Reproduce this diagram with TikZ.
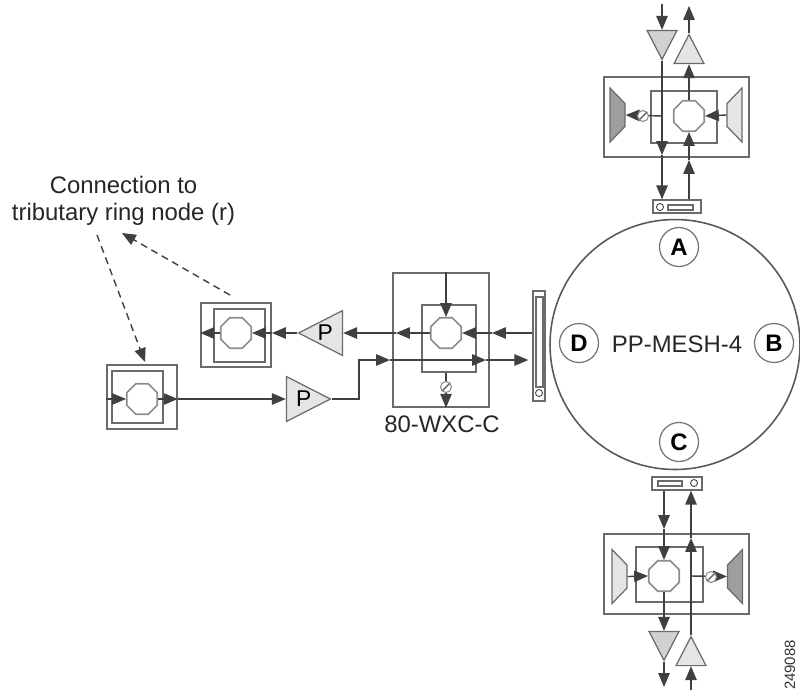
\documentclass[tikz,border=0pt]{standalone}
\usepackage{fontspec}
\setmainfont{Liberation Sans}
\usepackage{tikz}
\usetikzlibrary{arrows,shapes,positioning}
\definecolor{linegray}{gray}{.25}
\definecolor{boxgray}{gray}{.42}
\definecolor{ampdark}{gray}{.82}
\definecolor{amplight}{gray}{.9}
\definecolor{trapdark}{gray}{.62}
\tikzset{
  flow/.style={draw=linegray,line width=.8pt,-triangle 45},
  box/.style={draw=boxgray,rectangle,line width=.8pt,inner sep=0pt},
  oct/.style={draw=black!45,regular polygon,regular polygon sides=8,minimum size=.66cm,inner sep=0pt,line width=.9pt},
  amp/.style={draw=boxgray,isosceles triangle,isosceles triangle stretches,minimum width=.6cm,minimum height=.58cm,inner sep=0pt,line width=.7pt},
  pamp/.style={amp,fill=amplight,minimum width=.9cm,minimum height=.88cm,font=\fontsize{13}{14}\selectfont},
  trap/.style={draw=boxgray,trapezium,trapezium stretches=true,trapezium left angle=56,trapezium right angle=56,minimum width=1.08cm,minimum height=.3cm,inner sep=1pt,line width=.7pt},
  att/.style={draw=black!45,fill=white,circle,minimum size=.22cm,inner sep=0pt,line width=.6pt,
    path picture={\draw[black!60,line width=.8pt] (path picture bounding box.south west) -- (path picture bounding box.north east);}},
  port/.style={draw=linegray,circle,minimum size=.14cm,inner sep=0pt,line width=.5pt},
  letter/.style={draw=black!55,circle,minimum size=.78cm,inner sep=0pt,line width=.7pt,font=\fontsize{13.6}{14}\selectfont\bfseries},
  lab/.style={text=black!85,font=\fontsize{13.6}{15.4}\selectfont},
  hint/.style={flow,line width=.8pt,dash pattern=on 4pt off 2.8pt}
}
\begin{document}
\begin{tikzpicture}[x=.02cm,y=-.02cm]
  \useasboundingbox (0,0) rectangle (800,694);
 %the mesh ring
    \node[draw=black!65,circle,minimum size=5cm,inner sep=0pt,line width=.9pt] (ring) at (675,344.5) {};
    \node[letter] (A) at (679,247) {A};
    \node[letter] (B) at (774,343) {B};
    \node[letter] (C) at (679,442) {C};
    \node[letter] (D) at (579,343) {D};
    \node[lab] (mesh) at (677,344) {PP-MESH-4};
 %upper unit
    \node[box,minimum width=2.9cm,minimum height=1.6cm] (touter) at (676.5,117) {};
    \node[box,minimum width=1.32cm,minimum height=1.04cm] (tinner) at (684,117) {};
    \node[oct] (toct) at (689,116) {};
    \node[amp,fill=ampdark,shape border rotate=270,anchor=apex] (tdn) at (662,61) {};
    \node[amp,fill=amplight,shape border rotate=90,anchor=apex] (tup) at (689,33) {};
    \node[trap,fill=trapdark,rotate=-90] (tdk) at (617.5,115) {};
    \node[trap,fill=amplight,rotate=90] (tlt) at (734.5,115) {};
    \node[box,minimum width=.96cm,minimum height=.26cm] (tdev) at (677,206.5) {};
    \node[port] (tport) at (660,207) {};
    \node[box,minimum width=.5cm,minimum height=.1cm] (tslot) at (680.5,207.5) {};
    \coordinate (tin) at (662,4);
    \coordinate (tout) at (689,6);
    \coordinate (ta) at (662,155);
    \coordinate (tb) at (689,160);
  %draw arrows
    \draw[flow] (tin) -- (tdn.lower side);
    \draw[flow] (tdn.apex) -- (ta);
    \draw[flow] (ta) -- (tdev.north -| ta);
    \draw[flow] (tdev.north -| tb) -- (tb);
    \draw[flow] (tb) -- (toct.south);
    \draw[flow] (toct.north) -- (tup.lower side);
    \draw[flow] (tup.apex) -- (tout);
    \draw[flow] (tlt.top side) -- (toct.east);
    \draw[flow] (ta |- toct) -- (tdk.top side);
    \node[att] (tatt) at (643,116) {};
 %lower unit
    \node[box,minimum width=2.9cm,minimum height=1.6cm] (bouter) at (676.5,574) {};
    \node[box,minimum width=1.34cm,minimum height=1.1cm] (binner) at (669.5,574.5) {};
    \node[oct] (boct) at (664,576) {};
    \node[amp,fill=ampdark,shape border rotate=270,anchor=apex] (bdn) at (664,662) {};
    \node[amp,fill=amplight,shape border rotate=90,anchor=apex] (bup) at (691,635) {};
    \node[trap,fill=amplight,rotate=-90] (blt) at (619.5,576.5) {};
    \node[trap,fill=trapdark,rotate=90] (bdk) at (735,576.5) {};
    \node[box,minimum width=1cm,minimum height=.26cm] (bdev) at (677,483.5) {};
    \node[port] (bport) at (694,483) {};
    \node[box,minimum width=.48cm,minimum height=.1cm] (bslot) at (670,483.5) {};
    \coordinate (bin) at (691,690);
    \coordinate (bout) at (664,687);
    \coordinate (ba) at (664,529);
    \coordinate (bb) at (691,538);
  %draw arrows
    \draw[flow] (bdev.south -| ba) -- (ba);
    \draw[flow] (ba) -- (boct.north);
    \draw[flow] (boct.south) -- (bdn.lower side);
    \draw[flow] (bdn.apex) -- (bout);
    \draw[flow] (bin) -- (bup.lower side);
    \draw[flow] (bup.apex) -- (bb);
    \draw[flow] (bb) -- (bdev.south -| bb);
    \draw[flow] (blt.top side) -- (boct.west);
    \draw[flow] (bb |- boct) -- (bdk.top side);
    \node[att] (batt) at (711,577) {};
 %80-WXC-C unit
    \node[box,minimum width=1.92cm,minimum height=2.68cm] (mouter) at (441,340) {};
    \node[box,minimum width=1.08cm,minimum height=1.34cm] (minner) at (449,338.5) {};
    \node[oct] (moct) at (446,333) {};
    \node[lab] (wxc) at (442,424) {80-WXC-C};
    \node[box,minimum width=.24cm,minimum height=2.2cm] (bar) at (539,346) {};
    \node[box,minimum width=.14cm,minimum height=1.8cm] (barslot) at (539.5,342) {};
    \node[port] (barport) at (539,393) {};
    \coordinate (ma) at (492,333);
    \coordinate (mb) at (396,333);
    \coordinate (mc) at (390,360);
    \coordinate (md) at (486,360);
    \coordinate (me) at (359,360);
 %tributary nodes
    \node[box,minimum width=1.4cm,minimum height=1.28cm] (uouter) at (236,335) {};
    \node[box,minimum width=1.02cm,minimum height=1.06cm] (uinner) at (239.5,335.5) {};
    \node[oct] (uoct) at (236,333) {};
    \node[box,minimum width=1.4cm,minimum height=1.28cm] (louter) at (142,397) {};
    \node[box,minimum width=1.02cm,minimum height=1.04cm] (linner) at (137.5,397) {};
    \node[oct] (loct) at (142,399) {};
    \node[pamp,shape border rotate=180,anchor=apex] (ptop) at (297,333) {P\kern.16cm};
    \node[pamp,shape border rotate=0,anchor=apex] (pbot) at (332,399) {\kern.16cm P};
    \coordinate (ua) at (272,333);
  %draw arrows
    \draw[flow] (moct.north |- mouter.north) -- (moct.north);
    \draw[flow] (bar.west |- ma) -- (ma);
    \draw[flow] (ma) -- (moct.east);
    \draw[flow] (moct.west) -- (mb);
    \draw[flow] (mb) -- (ptop.lower side);
    \draw[flow] (ptop.apex) -- (ua);
    \draw[flow] (ua) -- (uoct.east);
    \draw[flow] (uoct.west) -- (uouter.west |- uoct);
    \draw[flow] (louter.west |- loct) -- (loct.west);
    \draw[flow] (loct.east) -- (louter.east |- loct);
    \draw[flow] (louter.east |- loct) -- (pbot.lower side);
    \draw[flow] (pbot.apex) -| (me) -- (mc);
    \draw[flow] (mc) -- (md);
    \draw[flow,shorten >=.08cm] (md) -- (bar.west |- md);
    \draw[flow] (minner.south -| moct) -- (moct |- mouter.south);
    \node[att] (matt) at (446,387) {};
 %connection label
    \node[lab,align=center] (conn) at (123.5,201) {Connection to\\tributary ring node (r)};
    \coordinate (ca) at (230,295);
    \coordinate (cb) at (122,233);
    \coordinate (cc) at (97,235);
    \coordinate (cd) at (145,362);
    \draw[hint] (ca) -- (cb);
    \draw[hint] (cc) -- (cd);
    \node[rotate=90,text=black!80,font=\fontsize{8.5}{9}\selectfont] (fig) at (790,665) {249088};
\end{tikzpicture}
\end{document}
